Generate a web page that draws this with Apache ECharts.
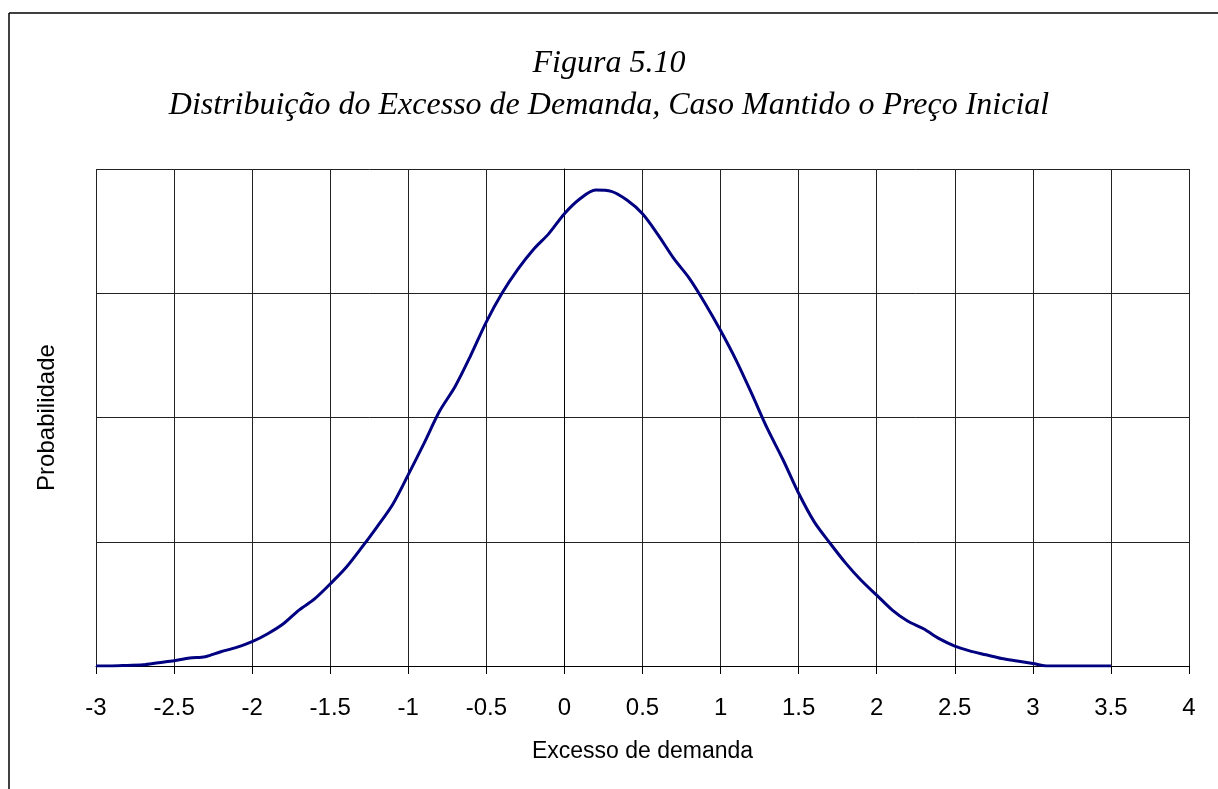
<!DOCTYPE html>
<html>
<head>
<meta charset="utf-8">
<script src="https://cdn.jsdelivr.net/npm/echarts@6/dist/echarts.min.js"></script>
<style>html,body{margin:0;padding:0;background:#fff;}#c{width:1218px;height:789px;}</style>
</head>
<body>
<div id="c"></div>
<script>
const titleLine1 = 'Figura 5.10';
const titleLine2 = 'Distribuição do Excesso de Demanda, Caso Mantido o Preço Inicial';
const xAxisName = 'Excesso de demanda';
const yAxisName = 'Probabilidade';
const xValues = [-3.0,-2.9,-2.8,-2.7,-2.6,-2.5,-2.4,-2.3,-2.2,-2.1,-2.0,-1.9,-1.8,-1.7,-1.6,-1.5,-1.4,-1.3,-1.2,-1.1,-1.0,-0.9,-0.8,-0.7,-0.6,-0.5,-0.4,-0.3,-0.2,-0.1,0.0,0.1,0.2,0.3,0.4,0.5,0.6,0.7,0.8,0.9,1.0,1.1,1.2,1.3,1.4,1.5,1.6,1.7,1.8,1.9,2.0,2.1,2.2,2.3,2.4,2.5,2.6,2.7,2.8,2.9,3.0,3.1,3.2,3.3,3.4,3.5];
const probValues = [0,0,0.005,0.01,0.027,0.043,0.064,0.075,0.115,0.15,0.196,0.26,0.34,0.45,0.54,0.66,0.79,0.95,1.12,1.30,1.54,1.79,2.05,2.25,2.50,2.77,3.00,3.19,3.35,3.48,3.64,3.76,3.83,3.82,3.75,3.64,3.47,3.28,3.12,2.92,2.70,2.46,2.19,1.91,1.66,1.39,1.16,0.99,0.83,0.69,0.57,0.45,0.36,0.30,0.22,0.16,0.12,0.09,0.06,0.04,0.02,0,0,0,0,0];

const chart = echarts.init(document.getElementById('c'), null, {renderer:'canvas'});
const seriesData = xValues.map((x, i) => [x, probValues[i]]);
chart.setOption({
  backgroundColor: '#fff',
  animation: false,
  title: [
    {text: titleLine1, left: 'center', top: 43,
     textStyle: {fontFamily: 'Liberation Serif', fontStyle: 'italic', fontWeight: 'normal', fontSize: 32, color: '#000'}},
    {text: titleLine2, left: 'center', top: 85,
     textStyle: {fontFamily: 'Liberation Serif', fontStyle: 'italic', fontWeight: 'normal', fontSize: 32, color: '#000'}}
  ],
  grid: {left: 96, right: 29, top: 169, bottom: 123, containLabel: false},
  xAxis: {
    type: 'value', min: -3, max: 4, interval: 0.5,
    name: xAxisName, nameLocation: 'middle', nameGap: 74,
    nameTextStyle: {fontFamily: 'Liberation Sans', fontSize: 23, color: '#000'},
    axisLine: {show: true, onZero: false, lineStyle: {color: '#000', width: 1}},
    axisTick: {show: true, length: 8, lineStyle: {color: '#000', width: 1}},
    axisLabel: {margin: 30, fontFamily: 'Liberation Sans', fontSize: 24, color: '#000'},
    splitLine: {show: true, lineStyle: {color: '#222', width: 1}}
  },
  yAxis: {
    type: 'value', min: 0, max: 4, interval: 1,
    name: yAxisName, nameLocation: 'middle', nameGap: 37,
    nameTextStyle: {fontFamily: 'Liberation Sans', fontSize: 24, color: '#000'},
    axisLine: {show: true, lineStyle: {color: '#000', width: 1}},
    axisTick: {show: false},
    axisLabel: {show: false},
    splitLine: {show: true, lineStyle: {color: '#222', width: 1}}
  },
  graphic: [
    {type: 'line', shape: {x1: 9, y1: 13, x2: 9, y2: 789}, style: {stroke: '#000', lineWidth: 1.5}},
    {type: 'line', shape: {x1: 9, y1: 13, x2: 1218, y2: 13}, style: {stroke: '#000', lineWidth: 1.5}}
  ],
  series: [{
    type: 'line', data: seriesData, showSymbol: false, smooth: 0.3,
    lineStyle: {color: '#000080', width: 3}, clip: true
  }]
});
</script>
</body>
</html>
